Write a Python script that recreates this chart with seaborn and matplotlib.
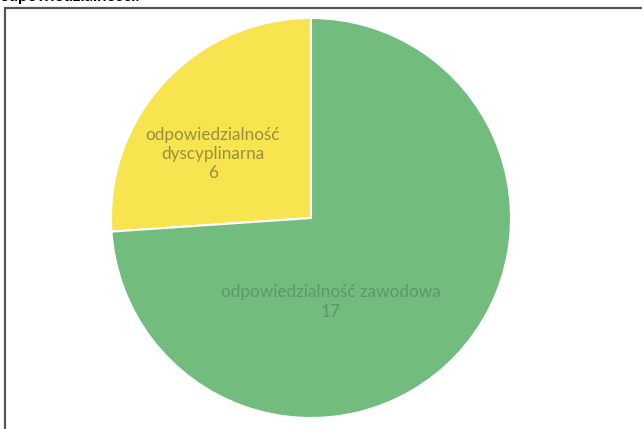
import matplotlib
matplotlib.use("Agg")
import matplotlib.pyplot as plt
import seaborn as sns
from matplotlib.patches import Rectangle

categories = ["odpowiedzialność\ndyscyplinarna", "odpowiedzialność zawodowa"]
values = [6, 17]
colors = ["#F8E44F", "#72BC7E"]
text_colors = ["#9A8F3E", "#5E9868"]
title = "odpowiedzialności."

sns.set_theme(style="white")
plt.rcParams["font.family"] = ["Lato", "DejaVu Sans"]

fig = plt.figure(figsize=(6.42, 4.29), dpi=100)
fig.patch.set_facecolor("white")

# border frame
fig.patches.append(Rectangle((5/642, -0.1), 1.0, (429-8)/429 + 0.1, transform=fig.transFigure,
                             fill=False, edgecolor="#555555", linewidth=1.6, figure=fig))
fig.text(0.0, 1.0 + 4/429, title, fontsize=12, fontweight="bold", ha="left", va="center",
         color="black")

ax = fig.add_axes([111/642, 11/429, 400/642, 400/429])
wedges, _ = ax.pie(values, colors=colors, startangle=90, counterclock=True,
                   wedgeprops=dict(edgecolor="white", linewidth=1.5))
ax.set_aspect("equal")
ax.set_xlim(-1, 1)
ax.set_ylim(-1, 1)

label_pos = [(-0.49, 0.32), (0.10, -0.42)]
for (x, y), cat, v, tc in zip(label_pos, categories, values, text_colors):
    ax.text(x, y, f"{cat}\n{v}", ha="center", va="center", fontsize=12.3,
            color=tc, linespacing=1.25)

fig.savefig("out.png", dpi=100)
